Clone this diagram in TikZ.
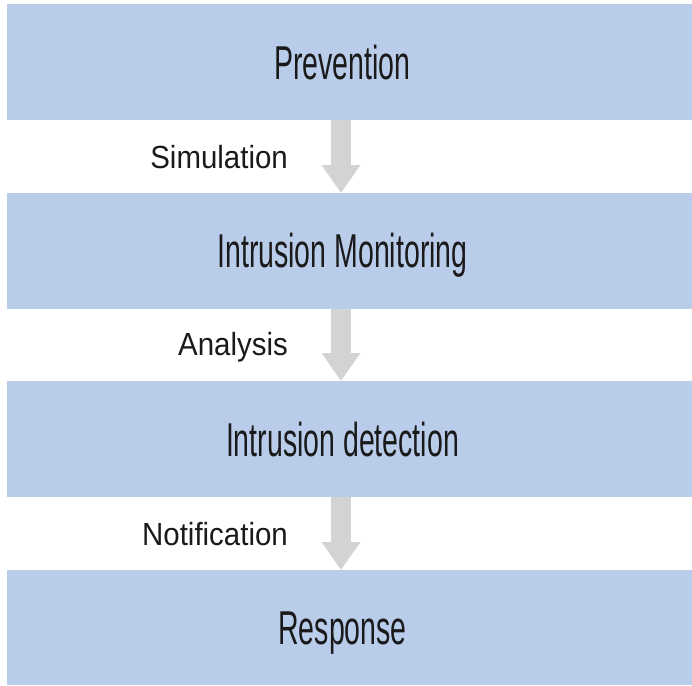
\documentclass[tikz,border=0pt]{standalone}
\usepackage{fontspec}
\usetikzlibrary{arrows.meta}
\newfontfamily\boxfont[FakeStretch=0.6]{Liberation Sans}
\newfontfamily\labfont[FakeStretch=0.92]{Liberation Sans}
\definecolor{boxblue}{HTML}{B9CCEA}
\definecolor{arrowgray}{HTML}{D3D3D3}
\definecolor{txt}{HTML}{1A1A1A}
\tikzset{
  box/.style={fill=boxblue, draw=none, minimum width=685pt, inner sep=0pt, outer sep=0pt},
  boxtext/.style={anchor=base, inner sep=0pt, text=txt, font=\boxfont\fontsize{47.5}{50}\selectfont},
  lab/.style={anchor=base east, inner sep=0pt, text=txt, font=\labfont\fontsize{32}{34}\selectfont},
  flowarrow/.style={draw=arrowgray, line width=20pt, -{Triangle[width=37pt,length=28pt]}}
}
\begin{document}
\begin{tikzpicture}[x=1pt,y=-1pt]
\useasboundingbox (0,0) rectangle (692,685);
\node[box, minimum height=116pt] (b1) at (349.5,62) {};
\node[box, minimum height=116pt] (b2) at (349.5,251) {};
\node[box, minimum height=116pt] (b3) at (349.5,439) {};
\node[box, minimum height=115pt] (b4) at (349.5,627.5) {};
\node[boxtext] (t1) at (342.5,79) {Prevention};
\node[boxtext] (t2) at (342.5,267) {Intrusion Monitoring};
\node[boxtext] (t3) at (342.5,456) {Intrusion detection};
\node[boxtext] (t4) at (342.5,644) {Response};
\draw[flowarrow] ([xshift=-8.5pt]b1.south) -- ([xshift=-8.5pt]b2.north);
\draw[flowarrow] ([xshift=-8.5pt]b2.south) -- ([xshift=-8.5pt]b3.north);
\draw[flowarrow] ([xshift=-8.5pt]b3.south) -- ([xshift=-8.5pt]b4.north);
\node[lab] (l1) at (288,168) {Simulation};
\node[lab] (l2) at (288,355) {Analysis};
\node[lab] (l3) at (288,545) {Notification};
\end{tikzpicture}
\end{document}
